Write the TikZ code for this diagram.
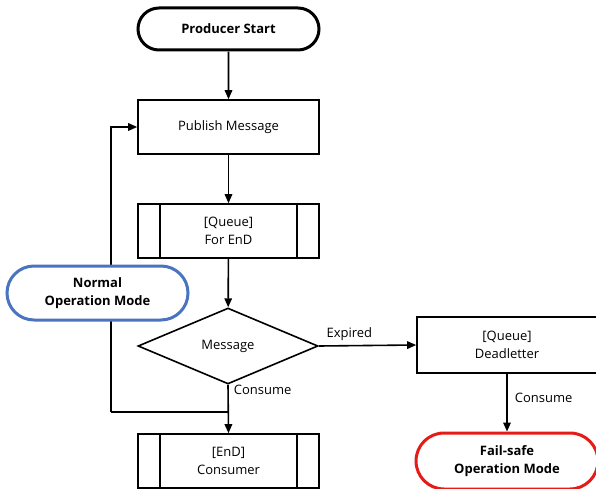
\documentclass[tikz,border=0pt]{standalone}
\usepackage{fontspec}
\setmainfont{Open Sans}
\usetikzlibrary{shapes.geometric,shapes.misc,arrows.meta}
\definecolor{modeblue}{HTML}{4A74C0}
\definecolor{modered}{HTML}{E41B17}
\tikzset{
  base/.style={font=\fontsize{13}{17.5}\selectfont, align=center, inner sep=0pt, fill=white},
  procbox/.style={base, draw, line width=1.6pt, minimum width=181pt, minimum height=54pt},
  terminal/.style={base, rounded rectangle, font=\fontsize{13}{17.5}\selectfont\bfseries, line width=3pt, minimum width=181pt},
  decision/.style={base, diamond, draw, line width=1.6pt, minimum width=180pt, minimum height=76pt},
  arr/.style={line width=1.6pt, -{Triangle[length=9pt,width=7.5pt]}},
  link/.style={line width=1.6pt},
  lbl/.style={font=\fontsize{13}{15}\selectfont, inner sep=0pt}
}
\begin{document}
\begin{tikzpicture}[x=1pt,y=-1pt]
\useasboundingbox (0,0) rectangle (596,489);

% main flow
\node[terminal, draw, minimum height=42pt] (start) at (228.5,29) {Producer Start};
\node[procbox] (publish) at (228.5,127) {Publish Message};
\node[procbox] (qend) at (228.5,231) {[Queue]\\For EnD};
\node[decision] (msg) at (228,346) {Message};
\node[procbox] (consumer) at (228.5,461) {[EnD]\\Consumer};
\node[procbox, minimum width=180pt, minimum height=56pt] (dead) at (507,345) {[Queue]\\Deadletter};
\node[terminal, draw=modered, minimum width=182pt, minimum height=56pt] (fail) at (507,461) {Fail-safe\\Operation Mode};

% side bars of the predefined-process boxes
\foreach \n in {qend,consumer}{
  \draw[link] ([xshift=23pt]\n.north west) -- ([xshift=23pt]\n.south west);
  \draw[link] ([xshift=-23pt]\n.north east) -- ([xshift=-23pt]\n.south east);
}

% connectors
\draw[arr] (start) -- (publish);
\draw[arr] (publish) -- (qend);
\draw[arr] (qend) -- (msg);
\draw[arr] (msg.east) -- node[lbl, pos=0, anchor=base west, xshift=7pt, yshift=8.5pt] {Expired} (dead.west);
\draw[arr] (msg.south) -- node[lbl, pos=0, anchor=base west, xshift=5pt, yshift=-9.5pt] {Consume} (consumer.north);
\draw[arr] (dead.south) -- node[lbl, pos=0, anchor=base west, xshift=7pt, yshift=-29pt] {Consume} (fail.north);

% loop back to publishing
\coordinate (join) at (228.5,412);
\coordinate (loopc) at (111,412);
\draw[link] (join) -- (loopc);
\draw[arr] (loopc) |- (publish.west);

% mode badge over the loop line
\node[terminal, draw=modeblue, minimum height=54pt] (normal) at (97.5,293) {Normal\\Operation Mode};
\end{tikzpicture}
\end{document}
